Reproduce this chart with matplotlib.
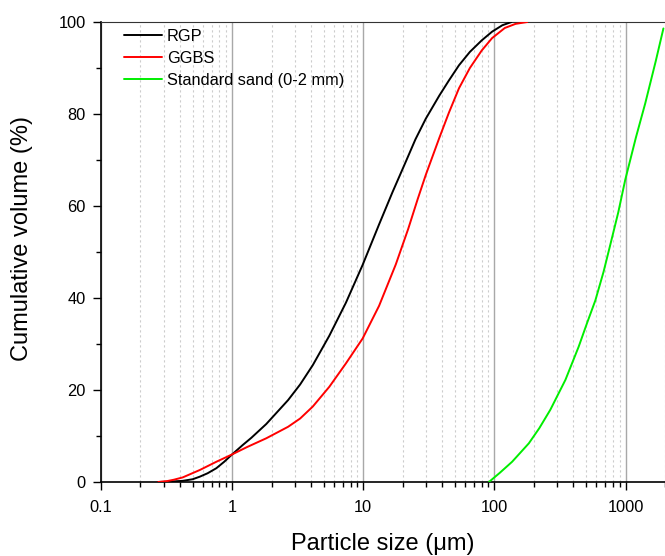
import matplotlib
matplotlib.use("Agg")
import matplotlib.pyplot as plt
from matplotlib.ticker import LogLocator, FixedLocator, MultipleLocator, FuncFormatter

plt.rcParams["font.family"] = ["Liberation Sans", "DejaVu Sans"]

# particle size (um) vs cumulative volume (%)
rgp_size = [0.273, 0.32, 0.42, 0.5, 0.566, 0.65, 0.758, 0.87, 1.0, 1.2, 1.4, 1.82,
            2.67, 3.3, 4.12, 5.51, 7.38, 9.89, 13.2, 16.7, 21.0, 25.0, 30.0, 38.0,
            45.0, 53.7, 65.0, 80.0, 96.0, 115.0, 135.0]
rgp_vol = [0.0, 0.05, 0.25, 0.6, 1.15, 1.9, 3.0, 4.4, 6.0, 8.0, 9.6, 12.6,
           17.8, 21.2, 25.4, 31.8, 39.0, 47.2, 56.0, 63.0, 69.5, 74.5, 79.0, 84.0,
           87.3, 90.6, 93.5, 96.0, 97.9, 99.3, 100.0]

ggbs_size = [0.273, 0.32, 0.36, 0.42, 0.566, 0.758, 1.0, 1.3, 1.82, 2.67, 3.3, 4.12,
             5.51, 7.38, 9.89, 13.2, 17.7, 22.0, 26.0, 30.0, 38.0, 45.0, 53.7, 65.0,
             80.0, 96.0, 120.0, 145.0, 178.0]
ggbs_vol = [0.0, 0.2, 0.5, 1.0, 2.6, 4.4, 6.0, 7.6, 9.5, 12.0, 13.8, 16.4,
            20.7, 25.8, 31.2, 38.3, 47.3, 55.0, 61.5, 66.8, 74.8, 80.3, 85.6, 90.0,
            93.8, 96.5, 98.7, 99.6, 100.0]

sand_size = [90.8, 110.0, 136.5, 183.0, 220.0, 267.0, 348.0, 439.0, 508.0, 589.0,
             680.0, 764.0, 880.0, 995.0, 1200.0, 1413.0, 1700.0, 1945.0]
sand_vol = [0.0, 2.0, 4.4, 8.4, 11.7, 15.7, 22.2, 29.4, 34.5, 39.5,
            45.7, 51.5, 58.6, 65.7, 74.9, 82.3, 91.5, 98.6]

x_ticks = [0.1, 1, 10, 100, 1000]

fig = plt.figure(figsize=(6.65, 5.56), dpi=100)
ax = fig.add_axes([0.1519, 0.1331, 0.8481, 0.8273])

line_kw = dict(lw=1.4, solid_joinstyle="round", solid_capstyle="round", zorder=3)
ax.plot(rgp_size, rgp_vol, color="black", label="RGP", **line_kw)
ax.plot(ggbs_size, ggbs_vol, color="#ff0000", label="GGBS", **line_kw)
ax.plot(sand_size, sand_vol, color="#00ee00", label="Standard sand (0-2 mm)", **line_kw)

ax.set_xscale("log")
ax.set_xlim(0.1, 2000)
ax.set_ylim(0, 100)

ax.xaxis.set_major_locator(FixedLocator(x_ticks))
ax.xaxis.set_minor_locator(LogLocator(base=10, subs=range(2, 10)))
ax.xaxis.set_major_formatter(FuncFormatter(lambda v, p: f"{v:g}"))
ax.yaxis.set_major_locator(MultipleLocator(20))
ax.yaxis.set_minor_locator(MultipleLocator(10))

ax.grid(which="major", axis="x", color="#a8a8a8", lw=1.0, ls="-", zorder=0)
ax.grid(which="minor", axis="x", color="#cccccc", lw=0.8, ls=(0, (2, 2.5)), zorder=0)

ax.tick_params(which="both", direction="out", top=False, right=False, labelsize=11.8,
               width=1.0, colors="black")
ax.tick_params(which="major", length=6)
ax.tick_params(which="minor", length=3.5)
ax.tick_params(axis="x", which="major", pad=7)
ax.tick_params(axis="y", which="major", pad=5)
ax.spines["right"].set_visible(False)
ax.spines["top"].set_color("#333333")
for s in ("left", "bottom"):
    ax.spines[s].set_linewidth(1.2)

ax.set_xlabel("Particle size (\u03bcm)", fontsize=17)
ax.set_ylabel("Cumulative volume (%)", fontsize=17)
ax.xaxis.set_label_coords(0.5, -0.110)
ax.yaxis.set_label_coords(-0.121, 0.53)

ax.legend(loc="upper left", bbox_to_anchor=(0.041, 0.985), frameon=False,
          fontsize=11.8, handlelength=2.3, handletextpad=0.3, labelspacing=0.42,
          borderpad=0, borderaxespad=0)

fig.savefig("out.png", dpi=100)
